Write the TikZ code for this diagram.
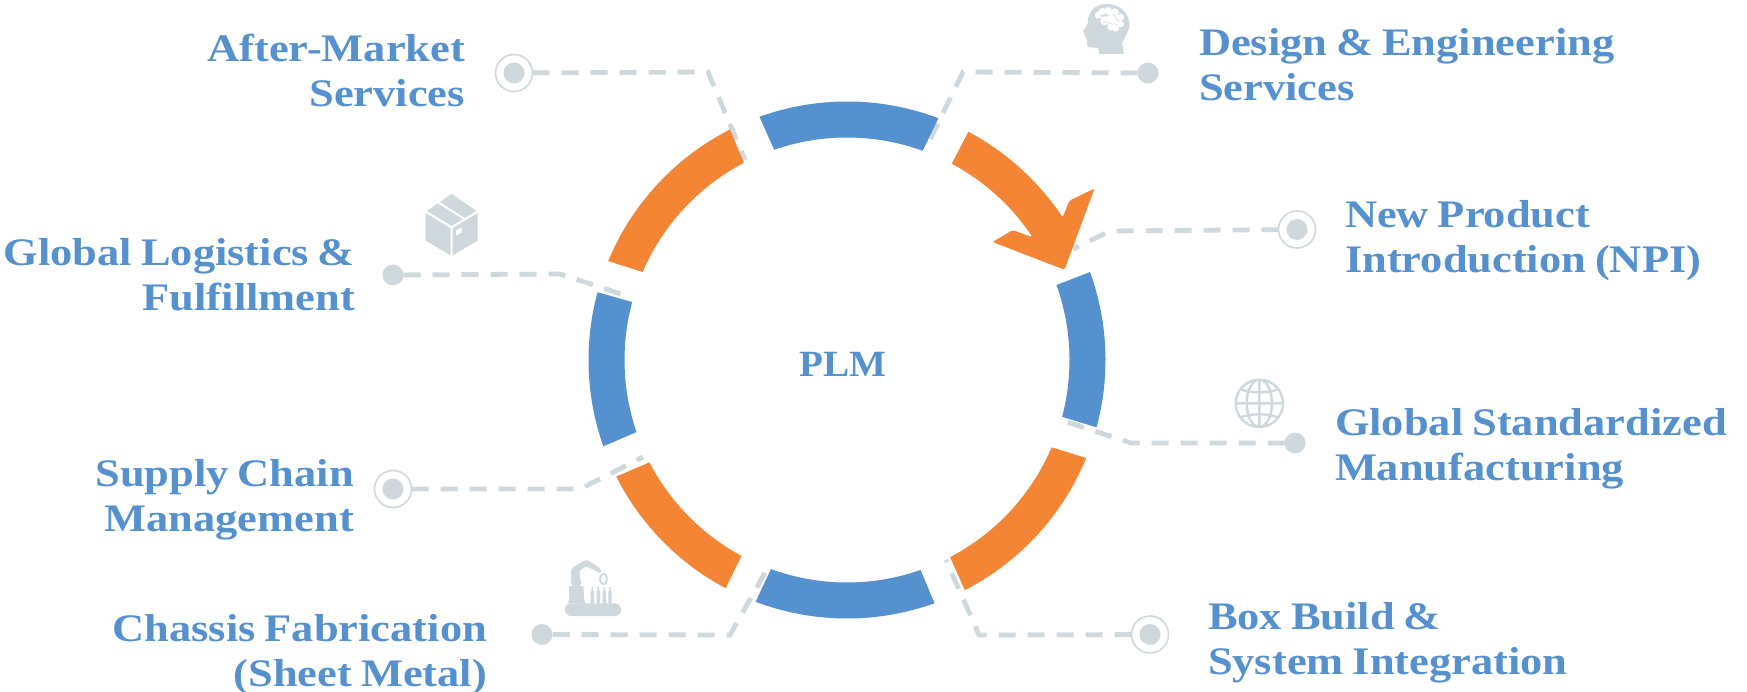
\documentclass[tikz,border=0pt]{standalone}
\usepackage{fontspec}
\newfontfamily\lblfont{Liberation Serif}[FakeStretch=1.14,WordSpace=0.8]
\newfontfamily\plmfont{Liberation Serif}[FakeStretch=1.06]
\definecolor{ringblue}{HTML}{5590CF}
\definecolor{ringorange}{HTML}{F48534}
\definecolor{softgray}{HTML}{CFD8DD}
\newcommand{\ringseg}[5]{%
  \fill[#1] plot[domain=#2:#3,samples=40] ({847+258.5*cos(\x)},{360-258.5*sin(\x)})
    -- plot[domain=#4:#5,samples=40] ({847+222.5*cos(\x)},{360-222.5*sin(\x)}) -- cycle;}
\tikzset{
  lbl/.style={inner sep=0pt,outer sep=0pt,text=ringblue,font=\lblfont\bfseries\fontsize{39}{45}\selectfont},
  lblL/.style={lbl,anchor=base west,align=left},
  lblR/.style={lbl,anchor=base east,align=right},
  dotnode/.style={circle,fill=softgray,minimum size=21pt,inner sep=0pt,outer sep=0pt},
  ringnode/.style={circle,draw=softgray,line width=1.6pt,fill=white,minimum size=37pt,inner sep=0pt,outer sep=0pt},
  wire/.style={draw=softgray,line width=4.8pt,dash pattern=on 17pt off 12pt},
  iconz/.style={x=0.33333pt,y=-0.33333pt},
}
\begin{document}
\begin{tikzpicture}[x=1pt,y=-1pt]
\path[use as bounding box,fill=white] (0,0) rectangle (1747,692);

% connector coordinates
\coordinate (bA) at (708,72);  \coordinate (eA) at (745,160);
\coordinate (bD) at (963,72);  \coordinate (eD) at (925,150);
\coordinate (bN) at (1110,231);\coordinate (eN) at (1073,249);
\coordinate (bG) at (560,274); \coordinate (eG) at (630,297);
\coordinate (bM) at (1131,443);\coordinate (eM) at (1058,419);
\coordinate (bS) at (580,489); \coordinate (eS) at (643,457);
\coordinate (bB) at (979,635); \coordinate (eB) at (946,560);
\coordinate (bC) at (730,635); \coordinate (eC) at (767,569);

% end markers
\node[ringnode] (rA) at (514,73) {}; \node[dotnode] at (rA) {};
\node[dotnode] (dD) at (1148,73) {};
\node[ringnode] (rN) at (1297,229.5) {}; \node[dotnode] at (rN) {};
\node[dotnode] (dG) at (393,275) {};
\node[dotnode] (dM) at (1295,443) {};
\node[ringnode] (rS) at (393,489) {}; \node[dotnode] at (rS) {};
\node[ringnode] (rB) at (1150,634.5) {}; \node[dotnode] at (rB) {};
\node[dotnode] (dC) at (542,634.5) {};

% connectors
\draw[wire] (rA) -- (bA) -- (eA);
\draw[wire] (dD) -- (bD) -- (eD);
\draw[wire] (rN) -- (bN) -- (eN);
\draw[wire] (dG) -- (bG) -- (eG);
\draw[wire] (dM) -- (bM) -- (eM);
\draw[wire] (rS) -- (bS) -- (eS);
\draw[wire] (rB) -- (bB) -- (eB);
\draw[wire] (dC) -- (bC) -- (eC);

% ring
\ringseg{ringblue}{109.8}{69.3}{70.1}{109.1}
\ringseg{ringorange}{62}{33.5}{33.6}{61.9}
\ringseg{ringblue}{19.9}{-15.1}{-14.8}{19.7}
\ringseg{ringorange}{-22.3}{-62.9}{-62.4}{-23.1}
\ringseg{ringblue}{-70.2}{-110.7}{-110}{-70.7}
\ringseg{ringorange}{242}{206.8}{207.4}{241.7}
\ringseg{ringblue}{199.5}{164.8}{164.9}{198.9}
\ringseg{ringorange}{157.5}{116.9}{117.6}{156.7}
\fill[ringorange,rounded corners=2pt] (1050,200) -- (1062.7,217.3) -- (1069.3,200.7) -- (1094.5,188.5) -- (1064.5,269.8) -- (992.5,242) -- (1012.7,230) -- (1032.3,237.3) -- cycle;

% labels
\node[inner sep=0pt,outer sep=0pt,text=ringblue,font=\plmfont\bfseries\fontsize{37}{45}\selectfont,anchor=base] (plm) at (843,376) {PLM};
\node[lblR] (tA) at (465,107) {After-Market\\Services};
\node[lblL] (tD) at (1199,101) {Design \& Engineering\\Services};
\node[lblL] (tN) at (1345,273) {New Product\\Introduction (NPI)};
\node[lblR] (tG) at (355,311) {Global Logistics \&\\Fulfillment};
\node[lblL] (tM) at (1335,480) {Global Standardized\\Manufacturing};
\node[lblR] (tS) at (354,531) {Supply Chain\\Management};
\node[lblL] (tB) at (1208,674) {Box Build \&\\System Integration};
\node[lblR] (tC) at (487,686) {Chassis Fabrication\\(Sheet Metal)};

% head icon
\begin{scope}[shift={(850,0)},iconz]
\fill[softgray] (770,12) .. controls (810,12) and (838,40) .. (838,72) .. controls (838,100) and (820,112) .. (817,130) -- (822,162) -- (748,162) -- (745,145) .. controls (735,140) and (718,146) .. (712,138) -- (710,118) -- (706,112) -- (700,92) -- (713,72) .. controls (712,35) and (735,12) .. (770,12) -- cycle;
\fill[white] (745,45) circle (11) (757,35) circle (11) (775,32) circle (11) (795,36) circle (11) (812,52) circle (11) (812,72) circle (10) (797,85) circle (10) (782,82) circle (10) (765,62) circle (14) (787,58) circle (20);
\draw[softgray,line width=0.6pt] (750,48) .. controls (760,40) and (768,55) .. (778,45) (787,42) .. controls (802,48) and (792,60) .. (807,62) (758,68) .. controls (772,58) and (782,78) .. (797,72);
\end{scope}

% box icon
\begin{scope}[shift={(400,170)},iconz]
\fill[softgray] (155,72) -- (233,125) -- (233,212) -- (155,258) -- (77,212) -- (77,125) -- cycle;
\draw[white,line width=2pt] (74,123) -- (155,172) -- (236,123) (155,172) -- (155,262) (110,94) -- (192,146);
\fill[white] (168,182) -- (185,172) -- (185,188) -- (168,197) -- cycle;
\end{scope}

% globe icon
\begin{scope}[shift={(1200,370)},iconz]
\draw[softgray,line width=2.4pt] (178,100) circle (71) (178,100) ellipse (38 and 71) (178,29) -- (178,171) (107,100) -- (249,100)
  (122,58) .. controls (150,70) and (206,70) .. (234,58) (122,142) .. controls (150,130) and (206,130) .. (234,142);
\end{scope}

% robot icon
\begin{scope}[shift={(520,540)},iconz]
\fill[softgray,rounded corners=6pt] (135,190) rectangle (303,228);
\fill[softgray] (143,190) -- (147,180) -- (147,138) -- (190,138) -- (193,180) -- (196,190) -- cycle;
\fill[softgray,rounded corners=3pt] (153,138) -- (153,85) -- (200,58) -- (245,88) -- (243,102) -- (200,78) -- (177,92) -- (185,138) -- cycle;
\draw[softgray,line width=1.8pt] (252,100) .. controls (232,110) and (240,128) .. (250,134) (250,100) .. controls (268,110) and (260,128) .. (252,134);
\foreach \px in {217,235,253,270}{
  \fill[softgray] (\px-5,190) -- (\px-5,155) -- (\px-2,150) -- (\px-2,141) -- (\px+2,141) -- (\px+2,150) -- (\px+5,155) -- (\px+5,190) -- cycle;
}
\end{scope}
\end{tikzpicture}
\end{document}
